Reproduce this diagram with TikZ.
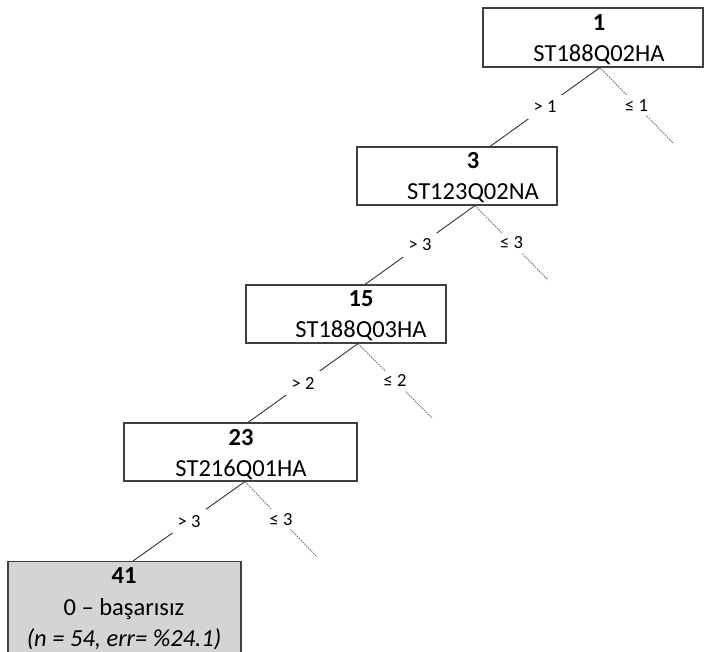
\documentclass[tikz,border=0pt]{standalone}
\usepackage{fontspec}
\setmainfont{Carlito}
\definecolor{leafgray}{RGB}{212,212,212}
\begin{document}
\begin{tikzpicture}[x=1pt,y=-1pt,
  treebox/.style={draw=black!75, line width=1.1pt, fill=white, inner sep=0pt},
  leafbox/.style={treebox, fill=leafgray},
  boxtext/.style={anchor=base, inner sep=0pt, font=\fontsize{24.5}{30}\selectfont},
  numtext/.style={boxtext, font=\fontsize{24.5}{30}\selectfont\bfseries},
  yesedge/.style={draw=black!80, line width=0.9pt},
  noedge/.style={draw=black!65, line width=0.7pt, dash pattern=on 1.6pt off 1pt},
  cond/.style={fill=white, inner sep=6pt, font=\fontsize{18.5}{21}\selectfont}]
\useasboundingbox (0,0) rectangle (706,651);
\clip (0,0) rectangle (706,651);

% split nodes of the tree
\node[treebox, minimum width=220, minimum height=59] (n1)  at (593,37.5)  {};
\node[treebox, minimum width=200, minimum height=58] (n3)  at (457,176)   {};
\node[treebox, minimum width=200, minimum height=58] (n15) at (346,314)   {};
\node[treebox, minimum width=233, minimum height=58] (n23) at (240.5,452) {};
% terminal node
\node[leafbox, minimum width=233, minimum height=94, anchor=north] (n41) at (124.5,561) {};

% node captions: number and split variable
\node[numtext] (n1num)  at (599,30.5)  {1};
\node[boxtext] (n1var)  at (599,61)    {ST188Q02HA};
\node[numtext] (n3num)  at (473,168.5) {3};
\node[boxtext] (n3var)  at (473,199.5) {ST123Q02NA};
\node[numtext] (n15num) at (361,306)   {15};
\node[boxtext] (n15var) at (361,337)   {ST188Q03HA};
\node[numtext] (n23num) at (241,445)   {23};
\node[boxtext] (n23var) at (241,476)   {ST216Q01HA};
\node[numtext] (n41num) at (124,583)   {41};
\node[boxtext] (n41cls) at (124,615)   {0 – başarısız};
\node[boxtext] (n41err) at (124,646)   {\itshape (n = 54, err= \%24.1)};

% loose ends of the unexpanded branches
\coordinate (e1)  at (673,143);
\coordinate (e3)  at (548,280);
\coordinate (e15) at (432,418);
\coordinate (e23) at (317,557);

% followed branches
\draw[yesedge] ([xshift=7pt]n1.south)    -- node[cond] {> 1} ([xshift=33pt]n3.north);
\draw[yesedge] ([xshift=18pt]n3.south)   -- node[cond] {> 3} ([xshift=19pt]n15.north);
\draw[yesedge] ([xshift=12pt]n15.south)  -- node[cond] {> 2} ([xshift=7.5pt]n23.north);
\draw[yesedge] ([xshift=4.5pt]n23.south) -- node[cond] {> 3} ([xshift=8.5pt]n41.north);

% other branches
\draw[noedge] ([xshift=7pt]n1.south)    -- node[cond, inner sep=4pt] {≤ 1} (e1);
\draw[noedge] ([xshift=18pt]n3.south)   -- node[cond, inner sep=4pt] {≤ 3} (e3);
\draw[noedge] ([xshift=12pt]n15.south)  -- node[cond, inner sep=4pt] {≤ 2} (e15);
\draw[noedge] ([xshift=4.5pt]n23.south) -- node[cond, inner sep=4pt] {≤ 3} (e23);
\end{tikzpicture}
\end{document}
